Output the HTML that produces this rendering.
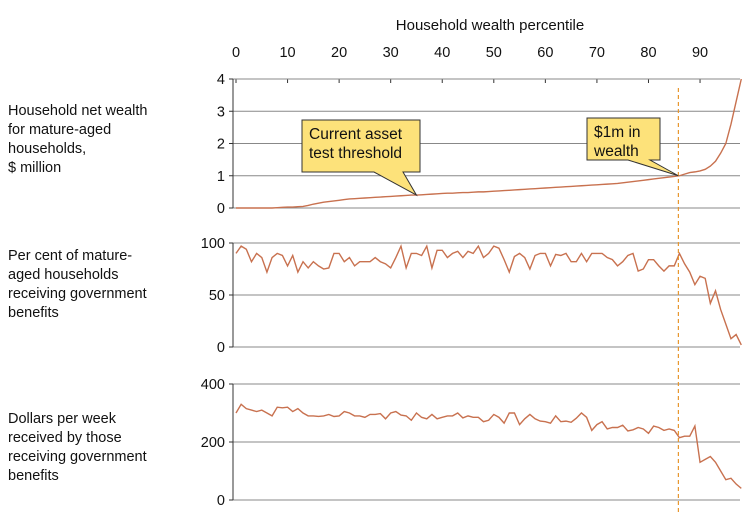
<!DOCTYPE html>
<html><head><meta charset="utf-8"><style>
body{margin:0;background:#fff;}
svg{display:block;font-family:"Liberation Sans",Arial,sans-serif;}
</style></head><body>
<svg id="c" width="754" height="529" viewBox="0 0 754 529">
<text x="490" y="30" font-size="15" text-anchor="middle" fill="#111">Household wealth percentile</text>
<g font-size="14.5" fill="#111">
<text><tspan x="8" y="115">Household net wealth</tspan><tspan x="8" y="134">for mature-aged</tspan><tspan x="8" y="153">households,</tspan><tspan x="8" y="172">$ million</tspan></text>
<text><tspan x="8" y="260">Per cent of mature-</tspan><tspan x="8" y="279">aged households</tspan><tspan x="8" y="298">receiving government</tspan><tspan x="8" y="317">benefits</tspan></text>
<text><tspan x="8" y="423">Dollars per week</tspan><tspan x="8" y="442">received by those</tspan><tspan x="8" y="461">receiving government</tspan><tspan x="8" y="480">benefits</tspan></text>
</g>
<g id="g"></g>
</svg>
<script>
const percentiles=[0,10,20,30,40,50,60,70,80,90];
const wealth=[0,0,0,0,0,0,0,0,0.01,0.02,0.03,0.03,0.04,0.05,0.08,0.12,0.15,0.18,0.2,0.22,0.24,0.26,0.28,0.29,0.3,0.31,0.32,0.33,0.34,0.35,0.36,0.37,0.38,0.39,0.4,0.4,0.41,0.42,0.43,0.44,0.45,0.46,0.46,0.47,0.48,0.48,0.49,0.5,0.5,0.51,0.52,0.53,0.54,0.55,0.56,0.57,0.58,0.59,0.6,0.61,0.62,0.63,0.64,0.65,0.66,0.67,0.68,0.69,0.7,0.71,0.72,0.73,0.74,0.75,0.76,0.78,0.8,0.82,0.84,0.86,0.88,0.9,0.92,0.94,0.96,0.98,1.0,1.05,1.1,1.12,1.15,1.2,1.3,1.45,1.7,2.0,2.6,3.3,4.0];
const pctBenefits=[90,97,94,82,90,86,72,86,90,88,78,88,72,82,76,82,78,75,76,90,90,82,86,78,82,82,82,86,82,80,76,86,97,76,90,90,88,97,76,93,93,86,90,92,86,92,90,97,86,90,97,95,84,72,87,90,86,75,88,90,90,78,89,88,90,82,82,90,82,90,90,90,86,84,78,82,88,90,73,75,84,84,78,73,78,78,90,80,72,60,68,66,42,54,36,22,8,12,2];
const dollars=[300,330,315,310,305,310,300,290,320,318,320,305,315,300,290,290,288,290,295,288,290,305,300,290,290,285,295,295,298,280,300,305,293,290,275,300,285,280,295,280,285,290,290,300,283,290,285,285,270,275,295,285,265,300,300,260,280,295,280,272,270,265,290,270,272,268,282,300,285,240,260,270,245,250,250,258,238,242,250,245,230,255,250,240,245,240,215,220,220,255,130,140,150,130,100,70,75,55,40];
const ticks1=[0,1,2,3,4],ticks2=[0,50,100],ticks3=[0,200,400];
const threshold=85.8;
const NS="http://www.w3.org/2000/svg",g=document.getElementById('g');
const X0=233,X1=740;
const xs=p=>236+p*5.156;
function el(t,a,n,p){const e=document.createElementNS(NS,t);for(const k in a)e.setAttribute(k,a[k]);


(p||g).appendChild(e);return e;}
function panel(name,ticks,vals,y0,y1,max){
 const ys=v=>y0-(v/max)*(y0-y1);
 ticks.forEach(t=>{el('line',{x1:X0,x2:X1,y1:ys(t),y2:ys(t),stroke:'#888','stroke-width':1},name+'-gridline');
  el('line',{x1:X0-4,x2:X0,y1:ys(t),y2:ys(t),stroke:'#333'},name+'-tick');
  const tx=el('text',{x:X0-8,y:ys(t)+5,'font-size':14.5,'text-anchor':'end',fill:'#111'},name+'-tick-label');tx.textContent=t;});
 el('line',{x1:X0,x2:X0,y1:y1,y2:y0,stroke:'#333'},name+'-y-axis');
 el('polyline',{points:vals.map((v,i)=>xs(i)+','+ys(v)).join(' '),fill:'none',stroke:'#c8714f','stroke-width':1.4},name+'-line');
 return ys;
}
percentiles.forEach(p=>{el('line',{x1:xs(p),x2:xs(p),y1:79,y2:83,stroke:'#333'},'x-tick');
 const t=el('text',{x:xs(p),y:57,'font-size':14.5,'text-anchor':'middle',fill:'#111'},'x-tick-label');t.textContent=p;});
const ys1=panel('wealth',ticks1,wealth,208,79,4);
panel('benefits-pct',ticks2,pctBenefits,347,243,100);
panel('dollars',ticks3,dollars,500,384,400);
el('line',{x1:xs(threshold),x2:xs(threshold),y1:88,y2:512,stroke:'#e8972e','stroke-dasharray':'4,3','stroke-width':1.2},'threshold-line');
function callout(name,x,y,w,h,px,py,b1,b2,lines){
 el('path',{d:`M${x},${y}h${w}v${h}H${b2}L${px},${py}L${b1},${y+h}H${x}Z`,fill:'#fde27a',stroke:'#333','stroke-width':1},name+'-box');
 lines.forEach((s,i)=>{const t=el('text',{x:x+7,y:y+19+i*19,'font-size':15.5,fill:'#111'},name+'-text');t.textContent=s;});
}
callout('asset-test-callout',302,120,118,52,xs(35),ys1(0.4),374,403,['Current asset','test threshold']);
callout('million-callout',587,118,73,42,xs(threshold),ys1(1),628,650,['$1m in','wealth']);
</script>
</body></html>
